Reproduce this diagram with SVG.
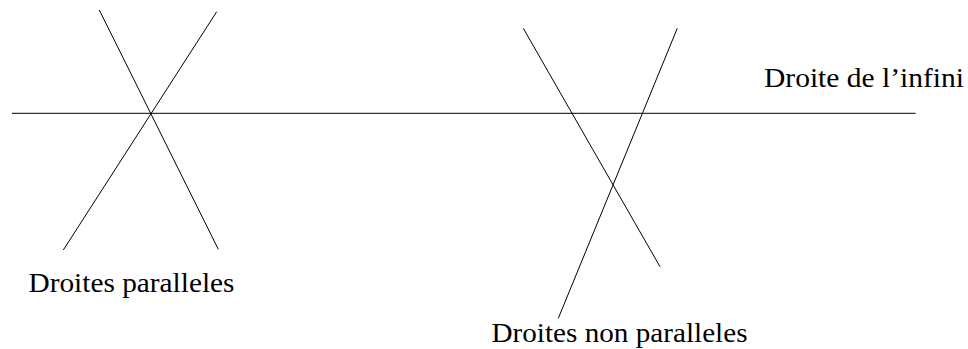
<svg xmlns="http://www.w3.org/2000/svg" width="968" height="349" viewBox="0 0 968 349">
<style>
.ln{stroke:#000;stroke-width:1;fill:none}
.lbl{font-family:"Liberation Serif","Times New Roman",serif;font-size:27px;fill:#000}
</style>
<rect width="968" height="349" fill="#fff"/>
<g id="connectors">
<line class="ln" x1="12" y1="113.3" x2="915.7" y2="113.3"/>
<line class="ln" x1="99.3" y1="10" x2="218.3" y2="249.3"/>
<line class="ln" x1="216.7" y1="11.7" x2="63.3" y2="250"/>
<line class="ln" x1="523.3" y1="28.3" x2="660" y2="266.7"/>
<line class="ln" x1="677.3" y1="28.3" x2="558.3" y2="318.3"/>
</g>
<g id="label-infini"><text class="lbl" x="764" y="86.5" textLength="200" lengthAdjust="spacingAndGlyphs">Droite de l’infini</text></g>
<g id="label-paralleles"><text class="lbl" x="28.5" y="291.5" textLength="206" lengthAdjust="spacingAndGlyphs">Droites paralleles</text></g>
<g id="label-non-paralleles"><text class="lbl" x="491.5" y="341.5" textLength="256" lengthAdjust="spacingAndGlyphs">Droites non paralleles</text></g>
</svg>
